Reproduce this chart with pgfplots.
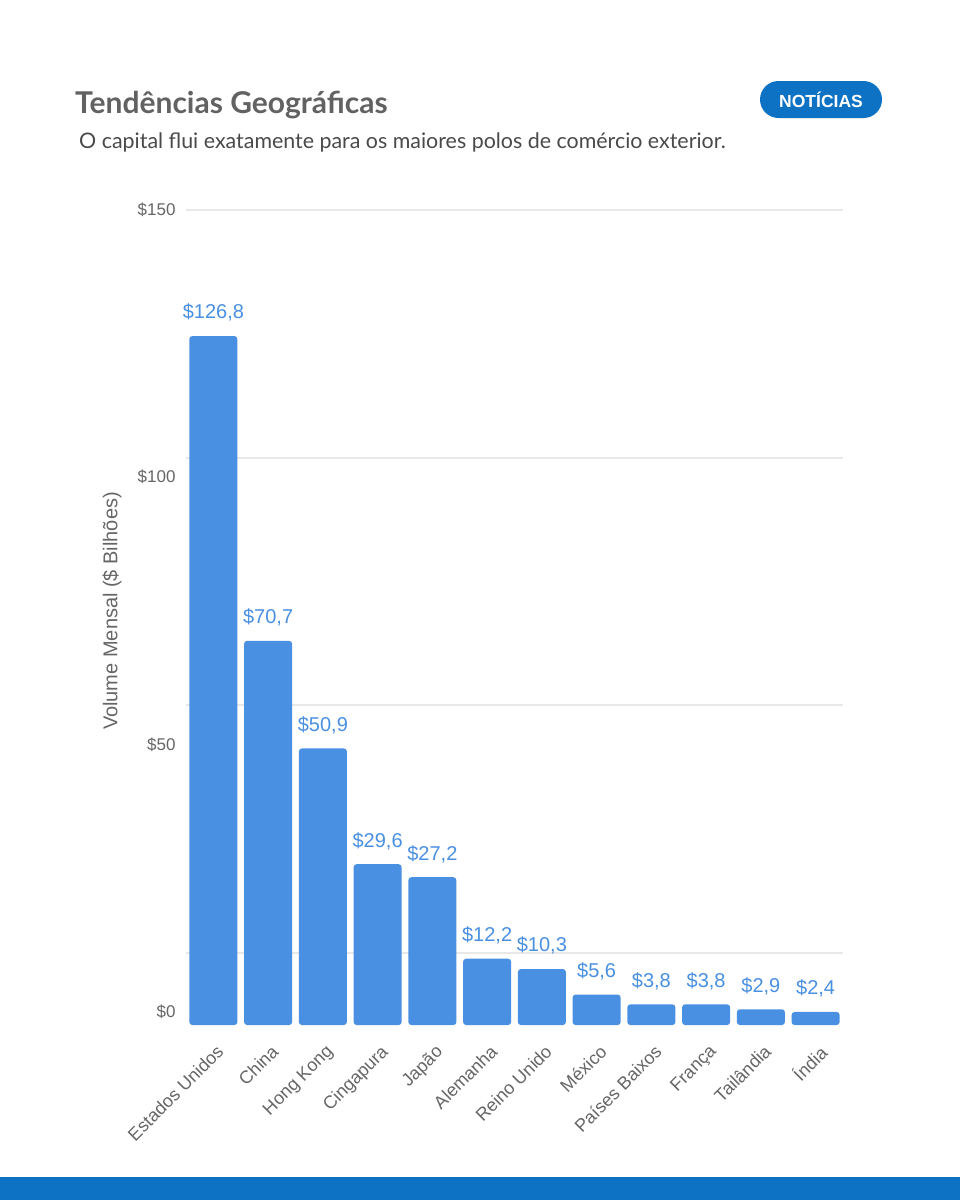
\documentclass[border=0pt]{standalone}
\usepackage{fontspec}
\setmainfont{Liberation Sans}
\newfontfamily\titlefont{Lato}
\usepackage{pgfplots}
\pgfplotsset{compat=1.18}
\definecolor{barblue}{HTML}{4A90E2}
\definecolor{navblue}{HTML}{0E72C4}
\definecolor{titlegray}{HTML}{626262}
\definecolor{subgray}{HTML}{4A4A4A}
\definecolor{tickgray}{HTML}{666666}
\definecolor{gridgray}{HTML}{E8E8E8}
\begin{document}
\begin{tikzpicture}
\fill[white] (0pt,0pt) rectangle (960pt,-1200pt);
\fill[navblue] (0pt,-1177pt) rectangle (960pt,-1200pt);
\node[anchor=base west, inner sep=0, text=titlegray, font=\titlefont\bfseries\fontsize{30}{32}\selectfont] at (75pt,-113pt) {Tendências Geográficas};
\node[anchor=base west, inner sep=0, text=subgray, font=\titlefont\fontsize{21.4}{23}\selectfont] at (79pt,-148pt) {O capital flui exatamente para os maiores polos de comércio exterior.};
\fill[navblue, rounded corners=18.5pt] (760pt,-81pt) rectangle (882pt,-118pt);
\node[text=white, font=\bfseries\fontsize{17.5}{19}\selectfont, inner sep=0] at (821pt,-99.5pt) {NOTÍCIAS};
\begin{axis}[
  at={(186pt,-1025pt)}, anchor=south west,
  scale only axis, width=657pt, height=815pt,
  xmin=-0.5, xmax=11.5, ymin=0, ymax=150,
  clip=false,
  axis line style={draw=none},
  major tick length=0pt,
  xtick={0,...,11},
  xticklabels={Estados Unidos,China,Hong Kong,Cingapura,Japão,Alemanha,Reino Unido,México,Países Baixos,França,Tailândia,Índia},
  x tick label style={xshift=2pt, yshift=-17pt, rotate=45, anchor=north east, font=\fontsize{18}{20}\selectfont, text=tickgray, inner sep=1pt},
  ytick={2.39,51.53,100.86,150},
  yticklabels={\$0,\$50,\$100,\$150},
  y tick label style={font=\fontsize{17}{19}\selectfont, text=tickgray, anchor=east, xshift=-7pt},
  extra y ticks={13.25,58.9,104.36,150},
  extra y tick labels={},
  extra y tick style={ymajorgrids=true, major grid style={draw=gridgray, line width=1.2pt}},
  ylabel={Volume Mensal (\$ Bilhões)},
  ylabel style={font=\fontsize{20}{22}\selectfont, text=tickgray, at={(axis description cs:-0.1126,0.508)}, anchor=center, rotate=0},
]
\addplot[ybar, bar width=48pt, bar shift=0pt, fill=barblue, draw=none, rounded corners=3pt,
  nodes near coords={\$\pgfmathprintnumber{\pgfplotspointmeta}},
  nodes near coords style={font=\fontsize{20}{22}\selectfont, text=barblue, anchor=south, yshift=11pt,
    /pgf/number format/.cd, fixed, fixed zerofill, precision=1, use comma, assume math mode=true},
] coordinates {
(0,126.8) (1,70.7) (2,50.9) (3,29.6) (4,27.2) (5,12.2) (6,10.3) (7,5.6) (8,3.8) (9,3.8) (10,2.9) (11,2.4)
};
\end{axis}
\end{tikzpicture}
\end{document}
